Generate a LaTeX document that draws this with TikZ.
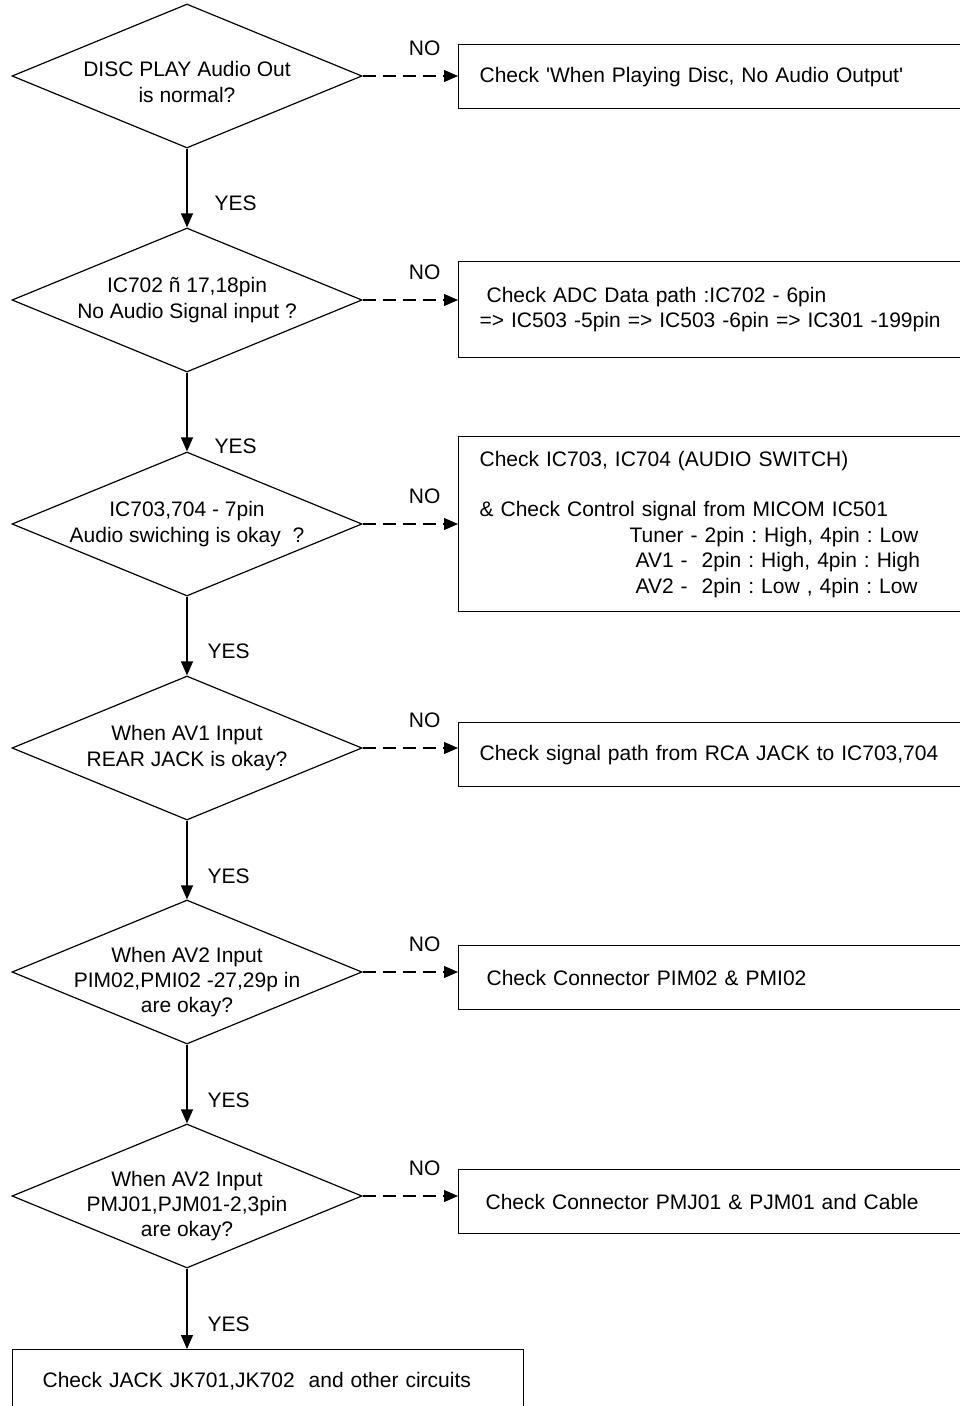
\documentclass[tikz,border=0pt]{standalone}
\usepackage{fontspec}
\setmainfont{Liberation Sans}
\usetikzlibrary{arrows.meta,positioning,shapes.geometric}
\frenchspacing

\begin{document}
\begin{tikzpicture}[x=1pt,y=-1pt,>={Triangle[length=14pt,width=12pt]},
  font=\fontsize{21pt}{25.4pt}\selectfont,line width=1.2pt,
  decision/.style={draw,diamond,minimum width=350pt,minimum height=144pt,inner sep=0pt},
  checkbox/.style={draw,anchor=north west,align=left,inner xsep=21pt,inner ysep=0pt,
    text width=500pt,minimum height=#1},
  tag/.style={inner sep=0pt}]
 \useasboundingbox (0,0) rectangle (960,1406);
 \fill[white] (0,0) rectangle (960,1406);
 \clip (0,0) rectangle (960,1406);
 % questions
 \foreach \i/\y/\dy/\txt in {1/76/-6pt/{DISC PLAY Audio Out\\is normal?},
   2/300/0pt/{IC702 ñ 17,18pin\\No Audio Signal input ?},
   3/524/0pt/{IC703,704 - 7pin\\Audio swiching is okay\ \ ?},
   4/748/0pt/{When AV1 Input\\REAR JACK is okay?},
   5/972/-10pt/{When AV2 Input\\PIM02,PMI02 -27,29p in\\are okay?},
   6/1196/-10pt/{When AV2 Input\\PMJ01,PJM01-2,3pin\\are okay?}}{
  \node[decision,label={[align=center,yshift=\dy]center:{\txt}}] (d\i) at (187,\y) {};}
 % checks
 \node[checkbox=64pt] (b1) at (458,44) {Check \textquotesingle When Playing Disc, No Audio Output\textquotesingle};
 \node[checkbox=96pt] (b2) at (458,261) {\hspace*{7pt}Check ADC Data path :IC702 - 6pin\\
   => IC503 -5pin => IC503 -6pin => IC301 -199pin};
 \node[checkbox=175pt] (b3) at (458,436) {Check IC703, IC704 (AUDIO SWITCH)\\[25.4pt]
   \& Check Control signal from MICOM IC501\\
   \hspace*{150pt}Tuner - 2pin : High, 4pin : Low\\
   \hspace*{156pt}AV1 -\ \ 2pin : High, 4pin : High\\
   \hspace*{156pt}AV2 -\ \ 2pin : Low , 4pin : Low};
 \node[checkbox=64pt] (b4) at (458,722) {Check signal path from RCA JACK to IC703,704};
 \node[checkbox=64pt] (b5) at (458,945) {\hspace*{7pt}Check Connector PIM02 \& PMI02};
 \node[checkbox=64pt] (b6) at (458,1169) {\hspace*{6pt}Check Connector PMJ01 \& PJM01 and Cable};
 \node[draw,anchor=north west,align=left,inner xsep=30pt,text width=451pt,minimum height=64pt]
   (last) at (12,1349) {Check JACK JK701,JK702\ \ and other circuits};
 % NO branches
 \foreach \i in {1,...,6}
  \draw[->,dash pattern=on 13pt off 7pt] (d\i.east) -- node[tag,pos=.65,above=20pt]{NO} (d\i.east -| b\i.west);
 % YES branches
 \foreach \i/\j/\p/\s in {1/2/.69/27pt,2/3/.94/27pt,3/4/.7/20pt,4/5/.7/20pt,5/6/.7/20pt}
  \draw[->] (d\i.south) -- node[tag,pos=\p,right=\s]{YES} (d\j.north);
 \draw[->] (d6.south) -- node[tag,pos=.69,right=20pt]{YES} (d6.south |- last.north);
\end{tikzpicture}
\end{document}
